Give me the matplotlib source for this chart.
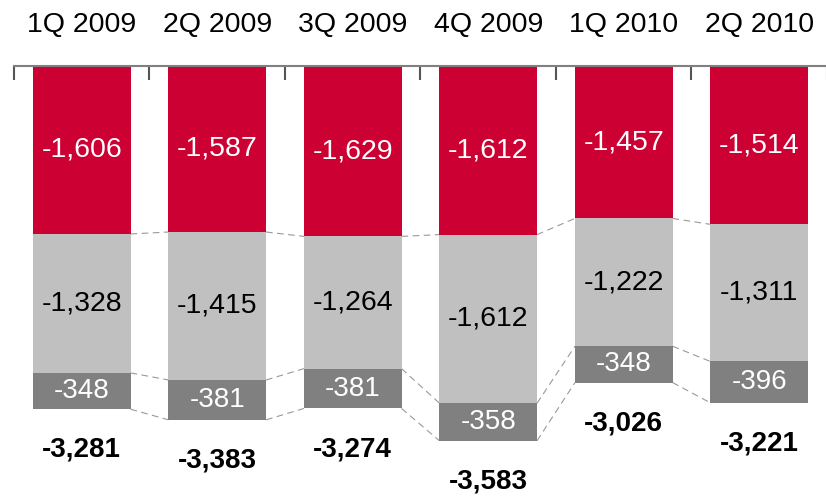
import numpy as np
import matplotlib.pyplot as plt

plt.rcParams['font.family'] = ['Liberation Sans', 'DejaVu Sans']

quarters = ["1Q 2009", "2Q 2009", "3Q 2009", "4Q 2009", "1Q 2010", "2Q 2010"]
seg_top = [-1606, -1587, -1629, -1612, -1457, -1514]
seg_mid = [-1328, -1415, -1264, -1612, -1222, -1311]
seg_bot = [-348, -381, -381, -358, -348, -396]
totals = [-3281, -3383, -3274, -3583, -3026, -3221]

RED = "#CC0033"
LIGHT = "#C0C0C0"
DARK = "#808080"

fig = plt.figure(figsize=(8.26, 4.96), dpi=100)
ax = fig.add_axes([14 / 826, 0, 813 / 826, 430 / 496])

x = np.arange(len(quarters))
w = 0.72
top = np.array(seg_top)
mid = np.array(seg_mid)
# boundaries: use the totals for the bottom so the stack ends where reported
b1 = top
b2 = top + mid
b3 = np.array(totals)
bot_h = b3 - b2

ax.bar(x, top, w, color=RED, zorder=2)
ax.bar(x, mid, w, bottom=b1, color=LIGHT, zorder=2)
ax.bar(x, bot_h, w, bottom=b2, color=DARK, zorder=2)

for i in range(len(x)):
    ax.text(x[i], b1[i] / 2, f"{seg_top[i]:,}", ha='center', va='center',
            color='white', fontsize=20.5)
    ax.text(x[i], (b1[i] + b2[i]) / 2, f"{seg_mid[i]:,}", ha='center', va='center',
            color='black', fontsize=20.5)
    ax.text(x[i], (b2[i] + b3[i]) / 2, f"{seg_bot[i]:,}", ha='center', va='center',
            color='white', fontsize=20)
    ax.annotate(f"{totals[i]:,}", (x[i], b3[i]), xytext=(0, -20),
                textcoords='offset points', ha='center', va='top',
                fontsize=20, fontweight='bold')

# dashed connectors between neighbouring bars
for i in range(len(x) - 1):
    for b in (b1, b2, b3):
        ax.plot([x[i] + w / 2, x[i + 1] - w / 2], [b[i], b[i + 1]],
                color='#999999', lw=0.8, ls=(0, (6, 4)), zorder=1)

ax.set_xlim(-0.5, len(x) - 0.5)
ax.set_ylim(-4111, 0)

for s in ['bottom', 'left', 'right']:
    ax.spines[s].set_visible(False)
ax.spines['top'].set_color('#808080')
ax.spines['top'].set_linewidth(1.5)
ax.set_yticks([])

ax.xaxis.tick_top()
ax.set_xticks(x)
ax.set_xticklabels(quarters, fontsize=20.5)
ax.tick_params(axis='x', which='major', length=0, pad=20)
ax.set_xticks(np.arange(-0.5, len(x)), minor=True)
ax.tick_params(axis='x', which='minor', direction='in', length=10,
               width=1.5, color='#555555', top=True)

fig.savefig("out.png", dpi=100)
